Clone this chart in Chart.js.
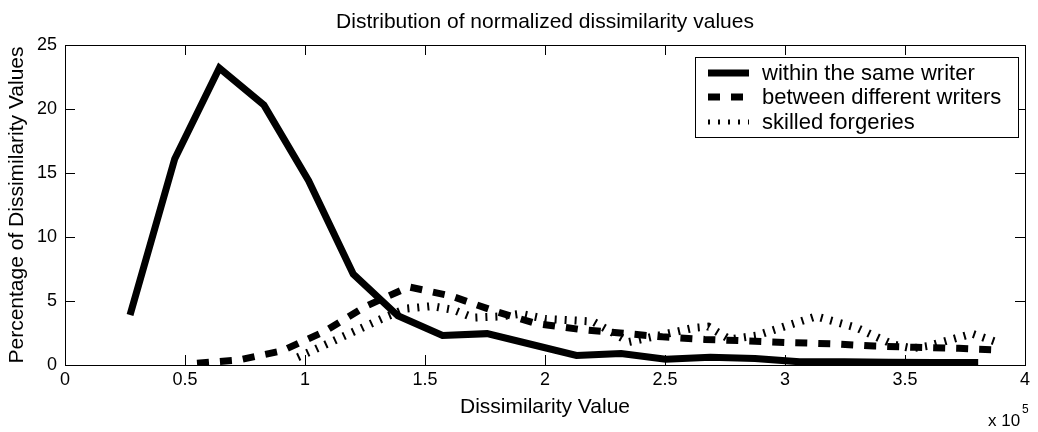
<!DOCTYPE html>
<html><head><meta charset="utf-8">
<script src="https://cdn.jsdelivr.net/npm/chart.js@4.4.0/dist/chart.umd.min.js"></script>
<style>html,body{margin:0;padding:0;background:#fff;}#wrap{width:1038px;height:432px;}</style>
</head><body><div id="wrap"><canvas id="c" width="1038" height="432"></canvas></div>
<script>
// ---- data (x in units of 10^5) ----
const chartTitle = 'Distribution of normalized dissimilarity values';
const xAxisTitle = 'Dissimilarity Value';
const yAxisTitle = 'Percentage of Dissimilarity Values';
const xTickValues = [0, 0.5, 1, 1.5, 2, 2.5, 3, 3.5, 4];
const xTickLabels = ['0', '0.5', '1', '1.5', '2', '2.5', '3', '3.5', '4'];
const yTickValues = [0, 5, 10, 15, 20, 25];
const seriesLabels = ['within the same writer', 'between different writers', 'skilled forgeries'];

const withinX = [0.271, 0.457, 0.643, 0.829, 1.015, 1.201, 1.387, 1.573, 1.759, 1.945, 2.131, 2.317, 2.503, 2.689, 2.875, 3.061, 3.247, 3.433, 3.619, 3.805];
const withinY = [3.9, 16.1, 23.2, 20.3, 14.4, 7.1, 3.85, 2.3, 2.45, 1.6, 0.75, 0.9, 0.45, 0.6, 0.5, 0.25, 0.25, 0.22, 0.2, 0.2];

const betweenX = [0.55, 0.726, 0.903, 1.079, 1.255, 1.432, 1.608, 1.784, 1.96, 2.137, 2.313, 2.489, 2.666, 2.842, 3.018, 3.195, 3.371, 3.547, 3.724, 3.9];
const betweenY = [0.13, 0.4, 1.1, 2.6, 4.6, 6.1, 5.4, 4.25, 3.25, 2.8, 2.5, 2.2, 2.0, 1.88, 1.75, 1.66, 1.48, 1.38, 1.3, 1.17];

const forgeryX = [0.97, 1.33, 1.42, 1.53, 1.62, 1.70, 1.82, 1.90, 2.0, 2.2, 2.35, 2.62, 2.68, 2.77, 2.88, 3.13, 3.3, 3.45, 3.53, 3.6, 3.78, 3.88];
const forgeryY = [0.6, 3.7, 4.4, 4.6, 4.3, 3.7, 3.8, 4.0, 3.6, 3.4, 1.8, 2.9, 3.0, 2.0, 2.3, 3.8, 2.9, 1.6, 1.3, 1.5, 2.45, 1.8];

const toPoints = (xs, ys) => xs.map((x, i) => ({x: x, y: ys[i]}));

const fam = "'Liberation Sans',Arial,Helvetica,sans-serif";
const tickFont = {family: fam, size: 18};
const dashStyles = [[], [12, 11], [2, 8]];

const framePlugin = {
  id: 'frame',
  afterDatasetsDraw(chart) {
    const {ctx, chartArea: a, scales} = chart;
    ctx.save();
    ctx.strokeStyle = '#000';
    ctx.lineWidth = 1;
    ctx.strokeRect(Math.round(a.left) + 0.5, Math.round(a.top) + 0.5, Math.round(a.right - a.left), Math.round(a.bottom - a.top));
    const L = 10;
    ctx.beginPath();
    scales.x.ticks.forEach(t => {
      const px = Math.round(scales.x.getPixelForValue(t.value)) + 0.5;
      ctx.moveTo(px, a.bottom); ctx.lineTo(px, a.bottom - L);
      ctx.moveTo(px, a.top); ctx.lineTo(px, a.top + L);
    });
    scales.y.ticks.forEach(t => {
      const py = Math.round(scales.y.getPixelForValue(t.value)) + 0.5;
      ctx.moveTo(a.left, py); ctx.lineTo(a.left + L, py);
      ctx.moveTo(a.right, py); ctx.lineTo(a.right - L, py);
    });
    ctx.stroke();
    ctx.restore();
  },
  afterDraw(chart) {
    const {ctx, chartArea: a} = chart;
    ctx.save();
    ctx.fillStyle = '#000';
    // title centred over the plot area
    ctx.font = "21px " + fam;
    ctx.textAlign = 'center';
    ctx.textBaseline = 'middle';
    ctx.fillText(chart.options.plugins.customTitle.text, (a.left + a.right) / 2, 22);
    ctx.textBaseline = 'alphabetic';
    ctx.textAlign = 'left';
    ctx.font = "17px " + fam;
    ctx.fillText('x 10', 988, 426);
    ctx.font = "12px " + fam;
    ctx.fillText('5', 1022, 413);
    // legend
    const bx = 695, by = 57, bw = 323, bh = 80;
    ctx.fillStyle = '#fff';
    ctx.fillRect(bx, by, bw, bh);
    ctx.strokeStyle = '#000';
    ctx.lineWidth = 1;
    ctx.strokeRect(bx + 0.5, by + 0.5, bw, bh);
    const rows = [73, 97, 122];
    chart.data.datasets.forEach((ds, i) => {
      ctx.save();
      ctx.strokeStyle = '#000';
      ctx.lineWidth = i === 2 ? 5 : 7;
      ctx.lineCap = 'butt';
      ctx.setLineDash(ds.borderDash || []);
      ctx.beginPath();
      ctx.moveTo(708, rows[i]);
      ctx.lineTo(749, rows[i]);
      ctx.stroke();
      ctx.restore();
      ctx.fillStyle = '#000';
      ctx.font = "22px " + fam;
      ctx.textBaseline = 'middle';
      ctx.textAlign = 'left';
      ctx.fillText(ds.label, 762, rows[i] + 1);
    });
    ctx.restore();
  }
};

new Chart(document.getElementById('c'), {
  type: 'line',
  data: {
    datasets: [
      {label: seriesLabels[0], data: toPoints(withinX, withinY), borderColor: '#000', borderWidth: 7, borderDash: dashStyles[0], pointRadius: 0, fill: false, tension: 0},
      {label: seriesLabels[1], data: toPoints(betweenX, betweenY), borderColor: '#000', borderWidth: 7, borderDash: dashStyles[1], pointRadius: 0, fill: false, tension: 0},
      {label: seriesLabels[2], data: toPoints(forgeryX, forgeryY), borderColor: '#000', borderWidth: 8, borderDash: dashStyles[2], pointRadius: 0, fill: false, tension: 0}
    ]
  },
  options: {
    responsive: false,
    animation: false,
    devicePixelRatio: 1,
    layout: {padding: {left: 0, right: 13, top: 45, bottom: 0}},
    plugins: {
      legend: {display: false},
      tooltip: {enabled: false},
      title: {display: false},
      customTitle: {text: chartTitle}
    },
    scales: {
      x: {
        type: 'linear', min: 0, max: 4,
        afterBuildTicks: s => { s.ticks = xTickValues.map(v => ({value: v})); },
        afterFit: s => { s.height = 67; },
        ticks: {color: '#000', font: tickFont, padding: 4, maxRotation: 0, autoSkip: false,
          callback: (v) => { const i = xTickValues.indexOf(v); return i >= 0 ? xTickLabels[i] : ''; }},
        grid: {display: false, drawTicks: false, tickLength: 0},
        border: {display: false},
        title: {display: true, text: xAxisTitle, color: '#000', font: {family: fam, size: 21}, padding: {top: 0, bottom: 12}}
      },
      y: {
        type: 'linear', min: 0, max: 25,
        afterBuildTicks: s => { s.ticks = yTickValues.map(v => ({value: v})); },
        afterFit: s => { s.width = 65; },
        ticks: {color: '#000', font: tickFont, padding: 8, autoSkip: false},
        grid: {display: false, drawTicks: false, tickLength: 0},
        border: {display: false},
        title: {display: true, text: yAxisTitle, color: '#000', font: {family: fam, size: 21}, padding: {top: 5, bottom: 0}}
      }
    }
  },
  plugins: [framePlugin]
});
</script>
</body></html>
